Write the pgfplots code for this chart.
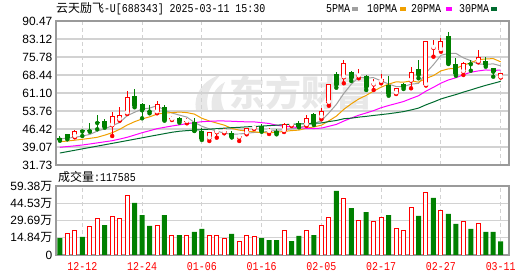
\documentclass[border=0pt]{standalone}
\usepackage{fontspec}
\setmainfont{Liberation Sans}
\newfontfamily\cjk{Noto Sans CJK SC}
\newfontfamily\monof[FakeStretch=0.833]{Liberation Mono}
\usepackage{pgfplots}
\usepackage{pgfplotstable}
\pgfplotsset{compat=1.18}
\definecolor{upred}{HTML}{FF0000}
\definecolor{dngreen}{HTML}{008000}
\definecolor{ma5c}{HTML}{A0A0A0}
\definecolor{ma10c}{HTML}{F0A000}
\definecolor{ma20c}{HTML}{FF00FF}
\definecolor{ma30c}{HTML}{006B2F}
\definecolor{gridc}{HTML}{D2D2D2}
\definecolor{framec}{HTML}{9A9A9A}
\definecolor{wmc}{HTML}{E8E8E8}

\pgfplotstableread{
x o h l c
2 43.27 46.01 43.03 45.55
7 47.92 53.35 43.56 51.72
8 50.21 55.27 49.80 51.95
9 52.82 62.04 52.53 59.47
13 53.23 57.71 52.82 56.61
15 50.29 51.84 50.09 50.49
17 49.35 51.02 48.74 49.55
20 42.62 45.10 41.52 45.07
21 45.07 46.01 42.87 45.27
22 45.10 46.83 44.66 45.35
24 42.95 43.97 41.52 43.15
25 44.66 46.94 44.25 46.70
26 46.62 48.05 46.42 46.83
28 45.19 46.70 44.37 45.39
30 45.60 48.86 45.19 48.33
31 47.95 48.98 47.64 48.05
33 48.05 52.13 47.64 50.78
35 51.19 54.86 50.37 53.76
36 57.14 64.77 55.92 64.65
38 67.51 74.69 65.06 73.22
40 67.91 70.89 67.10 68.12
42 64.57 66.69 62.32 64.77
43 65.71 68.85 65.06 66.81
45 60.98 63.14 60.69 63.02
47 66.12 71.83 63.02 69.54
49 64.36 82.50 64.15 82.31
50 79.46 82.72 75.91 79.66
51 78.64 83.41 77.95 82.43
54 69.79 73.62 68.44 73.22
56 73.87 78.64 73.62 75.66
59 67.51 69.20 67.45 69.14
}\candUp

\pgfplotstableread{
x o h l c
0 42.62 43.56 41.64 42.05
1 44.25 44.37 42.21 42.74
3 46.01 46.10 43.56 45.40
4 45.68 48.98 45.31 45.52
5 49.15 52.00 46.29 48.86
6 49.68 50.62 46.94 47.35
10 59.88 62.61 55.27 55.92
11 56.74 57.14 50.78 54.04
12 53.76 56.08 52.82 53.51
14 55.27 56.20 49.80 50.09
16 51.02 51.43 48.98 49.50
18 49.39 51.02 45.60 45.72
19 45.48 46.70 41.93 42.34
23 44.66 45.60 43.00 43.05
27 47.64 48.33 45.31 45.60
29 45.60 46.29 44.25 44.66
32 48.74 49.80 47.11 47.35
34 52.41 52.82 48.05 48.33
37 68.85 69.79 63.26 64.40
39 69.67 69.96 66.00 67.10
41 68.03 68.44 62.32 63.42
44 64.36 67.91 60.00 60.69
46 64.65 65.06 62.73 63.42
48 70.77 74.56 67.10 68.44
52 84.35 85.86 72.93 73.22
53 72.81 75.26 68.16 68.73
55 73.10 74.56 70.20 72.85
57 74.15 75.66 71.83 72.52
58 71.18 71.42 67.75 69.79
}\candDn

\pgfplotstableread{
x m5 m10 m20 m30
0 42.34 41.23 38.95 36.62
1 42.74 41.50 39.25 37.18
2 42.95 41.85 39.55 37.74
3 43.56 42.21 39.89 38.31
4 44.20 42.60 40.30 38.87
5 45.56 43.03 40.75 39.43
6 46.48 43.90 41.20 39.99
7 47.79 44.90 41.64 40.55
8 49.03 46.29 42.30 41.11
9 51.82 48.01 43.03 41.68
10 53.24 49.40 43.95 42.25
11 54.57 50.53 44.90 42.82
12 54.93 51.36 45.70 43.40
13 55.91 52.47 46.54 43.96
14 54.03 52.93 47.10 44.52
15 52.95 53.09 47.64 45.08
16 52.08 53.33 48.10 45.50
17 51.27 53.10 48.60 45.75
18 49.09 52.50 49.00 45.95
19 47.54 50.79 49.40 46.15
20 46.46 49.70 49.55 46.35
21 45.57 48.83 49.68 46.55
22 44.72 47.99 49.68 46.75
23 44.23 46.66 49.57 46.95
24 44.37 45.95 49.44 47.10
25 44.69 45.57 49.33 47.30
26 45.00 45.29 49.31 47.45
27 45.09 44.90 49.00 47.60
28 45.51 44.87 48.68 47.80
29 45.84 45.10 47.94 47.97
30 46.16 45.43 47.56 48.18
31 46.51 45.76 47.29 48.37
32 46.86 45.97 46.98 48.44
33 47.94 46.73 46.69 48.62
34 48.67 47.26 46.60 48.71
35 49.76 47.96 46.77 48.88
36 52.97 49.74 47.52 49.45
37 56.43 51.65 48.28 49.88
38 60.92 54.43 49.65 50.60
39 64.68 56.68 50.89 50.85
40 67.55 58.65 52.04 51.26
41 67.30 60.14 52.95 51.57
42 67.33 61.88 53.93 51.95
43 66.04 63.48 55.10 52.29
44 64.76 64.72 55.99 52.64
45 63.74 65.65 56.80 53.06
46 63.74 65.52 57.63 53.52
47 64.70 66.01 58.83 54.19
48 65.02 65.53 59.98 54.94
49 69.35 67.05 61.86 56.28
50 72.67 68.21 63.43 57.43
51 76.48 70.11 65.12 58.67
52 77.21 70.95 66.42 59.60
53 77.27 71.15 67.31 60.45
54 75.45 72.40 68.56 61.46
55 74.27 73.47 69.56 62.36
56 72.92 74.70 70.11 63.32
57 72.78 74.99 70.50 64.22
58 72.99 75.13 70.33 65.03
59 72.17 73.81 70.43 65.85
}\maTab

\pgfplotstableread{
x v
1 18.1
2 20.7
4 24.1
5 31.6
7 33.3
8 31.6
9 51.6
13 25.0
15 17.2
17 16.4
20 16.4
21 17.2
22 14.6
24 12.0
25 17.2
26 15.5
30 20.7
33 20.7
35 25.0
36 32.4
38 48.2
40 30.1
42 28.4
43 32.7
45 23.2
46 21.5
47 41.3
49 53.4
51 38.7
54 28.4
56 26.7
}\volUp

\pgfplotstableread{
x v
0 14.6
3 15.5
6 25.8
10 44.75
11 34.4
12 25.0
14 34.4
16 17.2
18 19.8
19 22.4
23 18.1
27 14.6
28 12.9
29 12.9
31 12.0
32 16.4
34 17.2
37 55.1
39 40.4
41 37.0
44 34.4
48 33.6
50 49.1
52 35.3
53 26.7
55 22.4
57 19.8
58 19.8
59 11.76
}\volDn

\pgfplotsset{
  kchart/.style={
    scale only axis, width=453bp,
    xmin=-0.52, xmax=60.11,
    xtick={3,11,19,27,35,43,51,59},
    xmajorgrids, ymajorgrids,
    major x grid style={gridc, dashed, dash pattern=on 4bp off 3bp, line width=0.9bp},
    major y grid style={gridc, line width=1.2bp},
    axis line style={framec, line width=1.2bp},
    major tick length=0pt,
    tick style={draw=none},
    yticklabel style={anchor=east, inner sep=0pt, xshift=-3.5bp, font=\fontsize{12}{12}\selectfont},
    /pgf/number format/assume math mode=true,
  },
  candle/.style={only marks, mark=none, color=#1, draw=#1,
    error bars/.cd, y dir=plus, y explicit, error mark=none},
}

\begin{document}
\begin{tikzpicture}
\useasboundingbox (0bp,0bp) rectangle (530bp,276bp);
% watermark logo and text
\fill[wmc] (196bp,166bp) .. controls (193bp,182bp) and (203bp,196bp) .. (222bp,202bp)
  .. controls (210bp,192bp) and (205bp,180bp) .. (208bp,166bp) -- cycle;
\fill[wmc] (212bp,166bp) .. controls (210bp,178bp) and (214bp,188bp) .. (225bp,194bp)
  .. controls (220bp,184bp) and (220bp,174bp) .. (224bp,166bp) -- cycle;
\node[anchor=center, inner sep=0pt, text=wmc] at (301bp,183bp) {\cjk\bfseries\fontsize{36}{36}\selectfont 东方财富};

\begin{axis}[kchart, at={(56bp,111bp)}, anchor=south west, height=144bp,
  ymin=31.73, ymax=90.47,
  ytick={31.73,39.07,46.42,53.76,61.10,68.44,75.78,83.12,90.47},
  yticklabels={31.73,39.07,46.42,53.76,61.10,68.44,75.78,83.12,90.47},
  xticklabels={},
]
\addplot[ma5c, line width=1bp, mark=none] table[x=x, y=m5] {\maTab};
\addplot[ma10c, line width=1bp, mark=none] table[x=x, y=m10] {\maTab};
\addplot[ma20c, line width=1bp, mark=none] table[x=x, y=m20] {\maTab};
\addplot[ma30c, line width=1bp, mark=none] table[x=x, y=m30] {\maTab};
% up candles: wick, body, hollow inside
\addplot[candle=upred, error bar style={color=upred, line width=1bp}]
  table[x=x, y=l, y error plus expr=\thisrow{h}-\thisrow{l}] {\candUp};
\addplot[candle=upred, error bar style={color=upred, line width=5bp}]
  table[x=x, y=o, y error plus expr={max(\thisrow{c}-\thisrow{o},0.41)}] {\candUp};
\addplot[candle=white, error bar style={color=white, line width=3bp}]
  table[x=x, y expr=\thisrow{o}+0.41, y error plus expr={max(\thisrow{c}-\thisrow{o}-0.82,0)}] {\candUp};
% down candles
\addplot[candle=dngreen, error bar style={color=dngreen, line width=1bp}]
  table[x=x, y=l, y error plus expr=\thisrow{h}-\thisrow{l}] {\candDn};
\addplot[candle=dngreen, error bar style={color=dngreen, line width=5bp}]
  table[x=x, y=c, y error plus expr={max(\thisrow{o}-\thisrow{c},0.41)}] {\candDn};
\end{axis}

\begin{axis}[kchart, at={(56bp,21bp)}, anchor=south west, height=69bp,
  ymin=0, ymax=59.38,
  ytick={0,14.84,29.69,44.53,59.38},
  yticklabels={0,14.84{\cjk 万},29.69{\cjk 万},44.53{\cjk 万},59.38{\cjk 万}},
  xticklabels={12-12,12-24,01-06,01-16,02-05,02-17,02-27,03-11},
  xticklabel style={anchor=north, inner sep=0pt, yshift=-7bp, text=upred, font=\monof\fontsize{12}{12}\selectfont},
]
\addplot[ybar, bar width=4bp, bar shift=0pt, draw=upred, fill=white, line width=1bp] table[x=x, y=v] {\volUp};
\addplot[ybar, bar width=5bp, bar shift=0pt, draw=none, fill=dngreen] table[x=x, y=v] {\volDn};
\end{axis}

% titles
\node[anchor=base west, inner sep=0pt] at (56bp,263bp) {\fontsize{12}{12}\selectfont{\cjk 云天励飞}\monof -U[688343] 2025-03-11 15:30};
\node[anchor=base west, inner sep=0pt] at (58bp,94bp) {\fontsize{12}{12}\selectfont{\cjk 成交量}\monof :117585};
% legend
\node[anchor=base west, inner sep=0pt] at (326bp,263bp) {\monof\fontsize{12}{12}\selectfont 5PMA};
\fill[ma5c] (352bp,265bp) rectangle (358bp,269bp);
\node[anchor=base west, inner sep=0pt] at (367bp,263bp) {\monof\fontsize{12}{12}\selectfont 10PMA};
\fill[ma10c] (400bp,265bp) rectangle (406bp,269bp);
\node[anchor=base west, inner sep=0pt] at (411bp,263bp) {\monof\fontsize{12}{12}\selectfont 20PMA};
\fill[ma20c] (446bp,265bp) rectangle (452bp,269bp);
\node[anchor=base west, inner sep=0pt] at (459bp,263bp) {\monof\fontsize{12}{12}\selectfont 30PMA};
\fill[ma30c] (491bp,265bp) rectangle (497bp,269bp);
\end{tikzpicture}
\end{document}
